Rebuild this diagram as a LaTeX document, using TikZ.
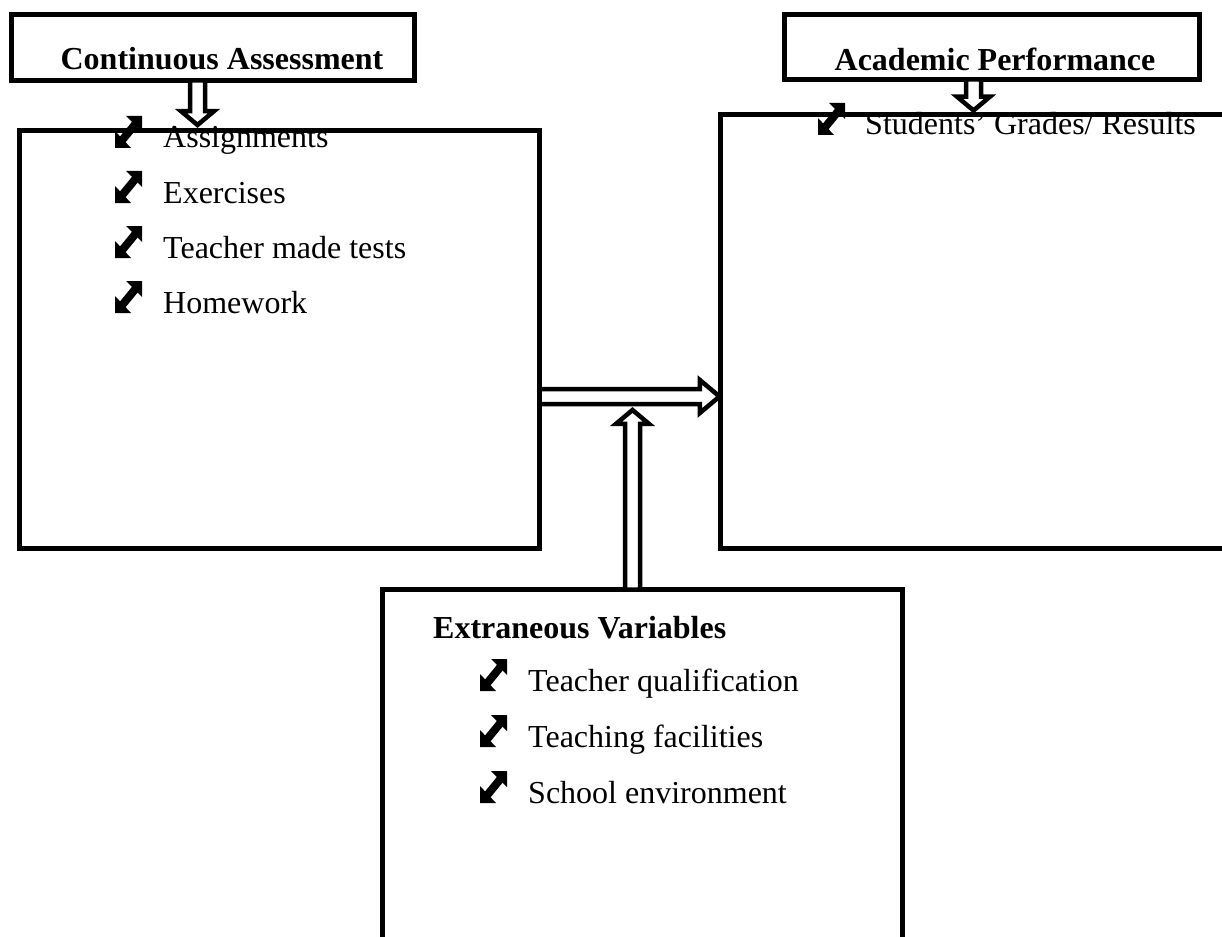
\documentclass[tikz,border=0pt]{standalone}
\usepackage{fontspec}
\setmainfont{Liberation Serif}
\usetikzlibrary{shapes.arrows}

\begin{document}
\begin{tikzpicture}[x=1pt,y=-1pt]
      \tikzset{box/.style = {draw,line width=5pt,inner sep=0pt,outer sep=0pt}}
      \tikzset{item/.style = {anchor=base west,inner sep=0pt,font=\fontsize{32}{38}\selectfont}}
      \tikzset{title/.style = {item,font=\fontsize{32}{38}\selectfont\bfseries}}
      \tikzset{hollow/.style = {single arrow,draw,fill=white,line width=4.5pt,inner sep=0pt,inner ysep=5.25pt,outer sep=0pt,
          single arrow head extend=9pt,single arrow tip angle=100,anchor=tail}}
      \tikzset{bul/.pic = {
          \begin{scope}[y=1pt]
            \fill (0,0) -- (0,17) -- (16,0) -- cycle;
            \fill (27,32) -- (11,32) -- (27,16) -- cycle;
            \draw[line width=8pt] (4,4) -- (22,26);
          \end{scope}}}

      \useasboundingbox (0,0) rectangle (1222,936);
      \clip (0,0) rectangle (1222,936);

      % boxes
      \node[box,minimum width=403pt,minimum height=66pt] (ca) at (212.5,47.5) {};
      \node[box,minimum width=415pt,minimum height=65pt] (ap) at (991.5,47) {};
      \node[box,minimum width=520pt,minimum height=417.5pt] (dep) at (279.5,339.25) {};
      \node[box,minimum width=580pt,minimum height=433pt] (perf) at (1010,331.5) {};
      \node[box,minimum width=519.5pt,minimum height=410.5pt] (ext) at (642.25,794.75) {};

      % titles
      \node[title,anchor=base] (catitle) at (222,70) {Continuous Assessment};
      \node[title,anchor=base] (aptitle) at (995,71) {Academic Performance};
      \node[title] (exttitle) at (433,638) {Extraneous Variables};

      % items
      \node[item] (ca1) at (163,148) {Assignments};
      \node[item] (ca2) at (163,203) {Exercises};
      \node[item] (ca3) at (163,258) {Teacher made tests};
      \node[item] (ca4) at (163,313) {Homework};
      \node[item] (ap1) at (865,135) {Students’ Grades/ Results};
      \node[item] (ext1) at (528,691) {Teacher qualification};
      \node[item] (ext2) at (528,747) {Teaching facilities};
      \node[item] (ext3) at (528,803) {School environment};

      \pic at ([xshift=-48pt]ca1.base west) {bul};
      \pic at ([xshift=-48pt]ca2.base west) {bul};
      \pic at ([xshift=-48pt]ca3.base west) {bul};
      \pic at ([xshift=-48pt]ca4.base west) {bul};
      \pic at ([xshift=-47pt]ap1.base west) {bul};
      \pic at ([xshift=-48pt]ext1.base west) {bul};
      \pic at ([xshift=-48pt]ext2.base west) {bul};
      \pic at ([xshift=-48pt]ext3.base west) {bul};

      % arrows
      \node[hollow,rotate=-90,minimum height=44.5pt] (down1) at ([xshift=-15pt]ca.south) {};
      \node[hollow,rotate=-90,minimum height=31pt] (down2) at ([xshift=-18pt]ap.south) {};
      \node[hollow,single arrow tip angle=80,minimum height=180pt] (right1) at ([yshift=-57.25pt]dep.east) {};
      \node[hollow,rotate=90,minimum height=179.5pt] (up1) at ([xshift=-9.75pt]ext.north) {};
\end{tikzpicture}
\end{document}
